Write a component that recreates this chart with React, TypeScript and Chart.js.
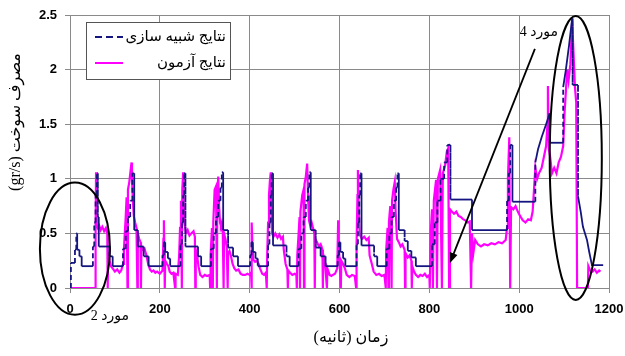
import React, { useEffect, useRef } from 'react';
import { Chart, registerables } from 'chart.js';

Chart.register(...registerables);

// Simulation results (time s, fuel g/s)
const simSeries: [number, number][] = [
  [0, 0], [2, 0], [2, 0.23], [11, 0.23], [11, 0.35], [14, 0.35], [14, 0.5], [16, 0.5], [16, 0.35], [21, 0.35], [21, 0.29], [26, 0.29], [26, 0.2],
  [51, 0.2], [51, 0.38], [54, 0.38], [54, 0.6], [57, 0.6], [57, 0.85], [60, 0.85], [60, 1.05], [62, 1.05], [62, 0.65], [64, 0.65], [64, 0.38], [88, 0.38], [88, 0.29], [95, 0.29], [95, 0.2],
  [118, 0.2], [118, 0.36], [124, 0.36], [124, 0.52], [129, 0.52], [129, 0.65], [134, 0.65], [134, 0.8], [139, 0.8], [139, 1.05], [143, 1.05], [143, 0.53], [151, 0.53], [151, 0.38], [164, 0.38], [164, 0.29], [175, 0.29], [175, 0.2],
  [206, 0.2], [206, 0.3], [209, 0.3], [209, 0.42], [212, 0.42], [212, 0.33], [218, 0.33], [218, 0.27], [223, 0.27], [223, 0.2],
  [246, 0.2], [246, 0.4], [249, 0.4], [249, 0.6], [252, 0.6], [252, 0.85], [254, 0.85], [254, 1.05], [257, 1.05], [257, 0.38], [285, 0.38], [285, 0.29], [292, 0.29], [292, 0.2],
  [314, 0.2], [314, 0.36], [320, 0.36], [320, 0.5], [325, 0.5], [325, 0.65], [330, 0.65], [330, 0.8], [335, 0.8], [335, 0.92], [338, 0.92], [338, 1.06], [341, 1.06], [341, 0.53], [352, 0.53], [352, 0.37], [363, 0.37], [363, 0.29], [374, 0.29], [374, 0.2],
  [401, 0.2], [401, 0.3], [404, 0.3], [404, 0.42], [407, 0.42], [407, 0.33], [413, 0.33], [413, 0.27], [418, 0.27], [418, 0.2],
  [441, 0.2], [441, 0.4], [444, 0.4], [444, 0.6], [447, 0.6], [447, 0.85], [449, 0.85], [449, 1.05], [452, 1.05], [452, 0.39], [482, 0.39], [482, 0.29], [489, 0.29], [489, 0.2],
  [509, 0.2], [509, 0.36], [515, 0.36], [515, 0.5], [520, 0.5], [520, 0.65], [525, 0.65], [525, 0.8], [530, 0.8], [530, 0.92], [533, 0.92], [533, 1.06], [536, 1.06], [536, 0.53], [547, 0.53], [547, 0.37], [558, 0.37], [558, 0.29], [569, 0.29], [569, 0.2],
  [596, 0.2], [596, 0.3], [599, 0.3], [599, 0.42], [602, 0.42], [602, 0.33], [608, 0.33], [608, 0.27], [613, 0.27], [613, 0.2],
  [638, 0.2], [638, 0.4], [641, 0.4], [641, 0.6], [644, 0.6], [644, 0.85], [646, 0.85], [646, 1.05], [649, 1.05], [649, 0.39], [677, 0.39], [677, 0.29], [684, 0.29], [684, 0.2],
  [705, 0.2], [705, 0.36], [711, 0.36], [711, 0.5], [716, 0.5], [716, 0.65], [721, 0.65], [721, 0.8], [726, 0.8], [726, 0.92], [729, 0.92], [729, 1.05], [732, 1.05], [732, 0.53], [745, 0.53], [745, 0.43], [752, 0.43], [752, 0.34], [760, 0.34], [760, 0.28], [770, 0.28], [770, 0.2],
  [806, 0.2], [806, 0.4], [812, 0.4], [812, 0.6], [818, 0.6], [818, 0.8], [825, 0.8], [825, 1.0], [833, 1.0], [833, 1.15], [840, 1.15], [840, 1.31], [847, 1.31], [847, 0.81], [895, 0.81], [895, 0.53],
  [973, 0.53], [973, 0.8], [977, 0.8], [977, 1.05], [980, 1.05], [980, 1.31], [985, 1.31], [985, 0.79], [1036, 0.79], [1036, 1.15],
  [1042, 1.27], [1050, 1.38], [1060, 1.5], [1068, 1.6], [1068, 1.33], [1098, 1.33], [1098, 1.84], [1104, 2.0], [1111, 2.22], [1118, 2.47], [1119, 2.47], [1119, 1.86], [1131, 1.86], [1131, 0.84],
  [1137, 0.7], [1142, 0.56], [1151, 0.44], [1156, 0.33], [1162, 0.21], [1187, 0.21],
];

// Test results (time s, fuel g/s)
const testSeries: [number, number][] = [
  [0, 0], [56, 0], [57, 0.55], [58, 1.06], [59, 0.75], [60, 0.58], [62, 0.55], [65, 0.57], [68, 0.53], [72, 0.56], [76, 0.52], [80, 0.55], [83, 0.5], [84, 0], [85, 0.32], [88, 0.25], [91, 0.2], [95, 0.18], [100, 0.15], [105, 0.17], [110, 0.14], [114, 0.16], [118, 0.22], [120, 0.35], [122, 0.5], [124, 0.65], [126, 0.83], [128, 0], [129, 0.9], [132, 0.97], [135, 1.08], [137, 1.15], [138, 1.0], [140, 0.8], [142, 0.66], [145, 0.6], [148, 0.55], [150, 0], [151, 0.5], [154, 0.45], [157, 0.42], [158, 0], [159, 0.38], [162, 0.35], [166, 0.36], [170, 0.3], [174, 0.22], [178, 0.17], [182, 0.15], [186, 0.16], [190, 0.14], [194, 0.15],
  [200, 0.13], [206, 0.16], [208, 0.45], [209, 0.62], [210, 0.35], [211, 0], [212, 0.25], [216, 0.22], [219, 0.2], [222, 0.15], [226, 0.13], [230, 0.14], [234, 0], [235, 0.13], [240, 0.12], [243, 0.3], [245, 0.55], [247, 0.8], [249, 0], [250, 0.9], [252, 1.06], [253, 0.8], [255, 0.6], [258, 0.5], [262, 0.53], [266, 0.48], [270, 0.5], [275, 0.52], [278, 0.47], [279, 0], [280, 0.35], [283, 0.3], [286, 0.2], [290, 0.12], [295, 0.1], [300, 0.12], [305, 0.11], [311, 0.12], [312, 0], [313, 0.3], [316, 0.55], [318, 0], [319, 0.6], [322, 0.9], [325, 0.93], [327, 0], [328, 0.85], [330, 1.02], [332, 0.75], [334, 0.6], [336, 0.57], [338, 0.6], [340, 0.55], [342, 0], [343, 0.5], [346, 0.45], [349, 0.38], [351, 0], [352, 0.32], [355, 0.34], [358, 0.3], [362, 0.22], [366, 0.18], [370, 0.16], [375, 0.17], [380, 0.13], [385, 0.12],
  [390, 0.12], [395, 0.13], [400, 0.12], [403, 0.14], [404, 0], [405, 0.6], [406, 0.4], [408, 0.26], [412, 0.24], [416, 0.25], [420, 0.22], [423, 0.18], [428, 0.13], [432, 0.12], [436, 0.14], [438, 0], [439, 0.3], [441, 0.6], [443, 0.85], [445, 0.98], [447, 1.06], [448, 0.75], [450, 0.5], [453, 0.47], [457, 0.5], [462, 0.46], [466, 0.49], [470, 0.45], [474, 0.47], [476, 0.35], [480, 0.22], [484, 0.17], [485, 0], [486, 0.16], [490, 0.14], [495, 0.12], [500, 0.13], [504, 0.12], [505, 0], [506, 0.3], [509, 0.5], [511, 0.65], [512, 0], [513, 0.7], [517, 0.85], [520, 0.9], [521, 0], [522, 0.95], [525, 1.02], [528, 1.14], [530, 0.85], [532, 0.62], [535, 0.57], [538, 0.6], [541, 0.55], [544, 0.5], [545, 0], [546, 0.45], [550, 0.42], [554, 0.38], [558, 0.4], [562, 0.35], [563, 0], [564, 0.3], [568, 0.22], [572, 0], [573, 0.18], [578, 0.12], [582, 0.11],
  [585, 0.12], [590, 0.13], [595, 0.18], [597, 0.62], [598, 0.4], [600, 0.27], [603, 0], [604, 0.25], [608, 0.22], [612, 0.18], [616, 0.12], [622, 0.1], [628, 0.12], [634, 0.11], [637, 0], [638, 0.4], [640, 0.85], [641, 1.08], [643, 0.7], [645, 0.49], [650, 0.45], [655, 0.47], [660, 0.44], [665, 0.46], [667, 0.3], [672, 0.22], [676, 0.15], [682, 0.12], [688, 0.13], [694, 0.11], [700, 0.12], [703, 0], [704, 0.35], [707, 0.55], [709, 0], [710, 0.6], [713, 0.75], [716, 0], [717, 0.8], [720, 0.9], [723, 0.97], [725, 0.7], [728, 0.45], [732, 0.42], [736, 0.38], [740, 0.4], [745, 0.35], [746, 0], [747, 0.32], [752, 0.28], [756, 0.3], [760, 0.25], [761, 0], [762, 0.2], [766, 0.15], [770, 0.12], [775, 0.1],
  [780, 0.12], [785, 0.11], [790, 0.13], [795, 0.1], [800, 0.12], [801, 0], [803, 0.5], [806, 0.72], [808, 0], [810, 0.8], [815, 0.99], [817, 0], [819, 1.0], [824, 1.08], [828, 0], [830, 1.05], [835, 1.12], [839, 1.25], [842, 1.28], [844, 0], [846, 0.72], [850, 0.7], [855, 0.68], [860, 0.7], [865, 0.66], [870, 0.65], [875, 0.63], [880, 0.62], [885, 0.6], [890, 0.61], [893, 0], [895, 0.5], [898, 0.32], [902, 0.44], [908, 0.4], [915, 0.38], [922, 0.4], [930, 0.39], [938, 0.41], [946, 0.4], [954, 0.42], [962, 0.41], [970, 0.44], [973, 0.55], [975, 1.0], [978, 1.38], [980, 0], [982, 0.74], [987, 0.72], [992, 0.75], [997, 0.7], [1002, 0.66], [1008, 0.62], [1014, 0.6], [1020, 0.63], [1026, 0.62], [1030, 0.7], [1033, 0.9], [1036, 1.1], [1040, 1.0], [1044, 1.05], [1050, 1.1], [1055, 1.2], [1060, 1.3], [1063, 1.5], [1064, 1.85], [1066, 1.27], [1069, 1.2], [1073, 1.05], [1078, 1.1], [1083, 1.05], [1088, 1.15], [1093, 1.2], [1098, 1.3], [1101, 1.6], [1104, 1.8], [1107, 2.0], [1110, 1.9], [1114, 2.05], [1118, 2.45], [1121, 2.15], [1124, 1.85], [1127, 1.7], [1129, 0], [1153, 0], [1154, 0.2], [1158, 0.16], [1163, 0.15], [1168, 0.17], [1173, 0.14], [1178, 0.16], [1181, 0.15],
];

const xRange = [0, 1200];
const xStep = 200;
const yRange = [0, 2.5];
const yStep = 0.5;
const legendLabels = ['نتایج شبیه سازی', 'نتایج آزمون'];
const xTitle = 'زمان (ثانیه)';
const yTitle = 'مصرف سوخت (gr/s)';
const note2 = 'مورد 2';
const note4 = 'مورد 4';

const SIM_COLOR = '#151580';
const TEST_COLOR = '#ff00ff';
const GRID = '#8a8a8a';
const PERSIAN_FONT = '"Liberation Serif", "DejaVu Serif", "DejaVu Sans", serif';
const TICK_FONT = { family: '"Liberation Sans", Arial, sans-serif', size: 13, weight: 'bold' as const };

const overlayPlugin = {
  id: 'overlay',
  afterDraw(chart: any) {
    const { ctx, chartArea, scales } = chart;
    const xs = scales.x;
    const ys = scales.y;
    const px = (v: number) => xs.getPixelForValue(v);
    const py = (v: number) => ys.getPixelForValue(v);
    ctx.save();

    // legend box
    const bx = chartArea.left + 16;
    const by = chartArea.top + 7;
    const bw = 144;
    const bh = 57;
    ctx.fillStyle = '#ffffff';
    ctx.fillRect(bx, by, bw, bh);
    ctx.strokeStyle = '#555555';
    ctx.lineWidth = 1;
    ctx.strokeRect(bx + 0.5, by + 0.5, bw, bh);
    ctx.lineWidth = 2;
    ctx.strokeStyle = SIM_COLOR;
    ctx.setLineDash([7, 4]);
    ctx.beginPath();
    ctx.moveTo(bx + 9, by + 15);
    ctx.lineTo(bx + 37, by + 15);
    ctx.stroke();
    ctx.setLineDash([]);
    ctx.strokeStyle = TEST_COLOR;
    ctx.beginPath();
    ctx.moveTo(bx + 9, by + 41);
    ctx.lineTo(bx + 37, by + 41);
    ctx.stroke();
    ctx.fillStyle = '#000';
    ctx.font = `15px ${PERSIAN_FONT}`;
    ctx.direction = 'rtl';
    ctx.textAlign = 'right';
    ctx.textBaseline = 'middle';
    ctx.fillText(legendLabels[0], bx + bw - 4, by + 15);
    ctx.fillText(legendLabels[1], bx + bw - 4, by + 41);

    // ellipses
    ctx.strokeStyle = '#000';
    ctx.lineWidth = 2;
    ctx.beginPath();
    ctx.ellipse(px(11), py(0.36), Math.abs(px(78) - px(0)), Math.abs(py(0) - py(0.605)), 0, 0, Math.PI * 2);
    ctx.stroke();
    ctx.beginPath();
    ctx.ellipse(px(1126), py(1.19), Math.abs(px(58) - px(0)), Math.abs(py(0) - py(1.3)), 0, 0, Math.PI * 2);
    ctx.stroke();

    // arrow
    const x1 = px(1035), y1 = py(2.19), x2 = px(846), y2 = py(0.23);
    const ang = Math.atan2(y2 - y1, x2 - x1);
    ctx.lineWidth = 1.8;
    ctx.beginPath();
    ctx.moveTo(x1, y1);
    ctx.lineTo(x2 - 6 * Math.cos(ang), y2 - 6 * Math.sin(ang));
    ctx.stroke();
    ctx.fillStyle = '#000';
    ctx.beginPath();
    ctx.moveTo(x2, y2);
    ctx.lineTo(x2 - 10 * Math.cos(ang) + 4 * Math.sin(ang), y2 - 10 * Math.sin(ang) - 4 * Math.cos(ang));
    ctx.lineTo(x2 - 10 * Math.cos(ang) - 4 * Math.sin(ang), y2 - 10 * Math.sin(ang) + 4 * Math.cos(ang));
    ctx.closePath();
    ctx.fill();

    // notes
    ctx.font = `14px ${PERSIAN_FONT}`;
    ctx.textAlign = 'center';
    ctx.direction = 'rtl';
    ctx.fillText(note4, px(1044), py(2.34));
    ctx.fillText(note2, px(89), py(-0.26));

    // axis titles
    ctx.font = `16px ${PERSIAN_FONT}`;
    ctx.fillText(xTitle, 351, chart.height - 18);
    ctx.save();
    ctx.translate(16, 122);
    ctx.rotate(-Math.PI / 2);
    ctx.fillText(yTitle, 0, 0);
    ctx.restore();

    ctx.restore();
  },
};

export default function App() {
  const canvasRef = useRef<HTMLCanvasElement | null>(null);

  useEffect(() => {
    const canvas = canvasRef.current;
    if (!canvas) return;
    const dashVertical = (c: any) => (c.p0.parsed.x === c.p1.parsed.x ? [5, 3] : undefined);
    const chart = new Chart(canvas, {
      type: 'line',
      data: {
        datasets: [
          {
            label: legendLabels[0],
            data: simSeries.map(([x, y]) => ({ x, y })),
            borderColor: SIM_COLOR,
            borderWidth: 1.8,
            pointRadius: 0,
            tension: 0,
            fill: false,
            segment: { borderDash: dashVertical },
          },
          {
            label: legendLabels[1],
            data: testSeries.map(([x, y]) => ({ x, y })),
            borderColor: TEST_COLOR,
            borderWidth: 2.2,
            pointRadius: 0,
            tension: 0,
            fill: false,
          },
        ],
      },
      options: {
        responsive: false,
        animation: false,
        devicePixelRatio: 1,
        layout: { padding: { left: 0, right: 16, top: 15, bottom: 0 } },
        plugins: { legend: { display: false }, tooltip: { enabled: false }, title: { display: false } },
        scales: {
          x: {
            type: 'linear',
            min: xRange[0],
            max: xRange[1],
            afterFit: (s: any) => { s.height = 68; s.paddingLeft = 0; s.paddingRight = 0; },
            ticks: { stepSize: xStep, autoSkip: false, maxRotation: 0, color: '#000', font: TICK_FONT, padding: 9, callback: (v: any) => String(v) },
            grid: { color: GRID, lineWidth: 1, tickLength: 5, drawTicks: true },
            border: { color: GRID, width: 1 },
          },
          y: {
            type: 'linear',
            min: yRange[0],
            max: yRange[1],
            afterFit: (s: any) => { s.width = 70; s.paddingTop = 0; s.paddingBottom = 0; },
            ticks: { stepSize: yStep, color: '#000', font: TICK_FONT, padding: 8, callback: (v: any) => String(v) },
            grid: { color: GRID, lineWidth: 1, tickLength: 5, drawTicks: true },
            border: { color: GRID, width: 1 },
          },
        },
      },
      plugins: [overlayPlugin],
    } as any);
    return () => chart.destroy();
  }, []);

  return (
    <div style={{ position: 'fixed', left: 0, top: 0, width: 625, height: 356, background: '#fff' }}>
      <canvas ref={canvasRef} width={625} height={356} style={{ display: 'block' }} />
    </div>
  );
}
